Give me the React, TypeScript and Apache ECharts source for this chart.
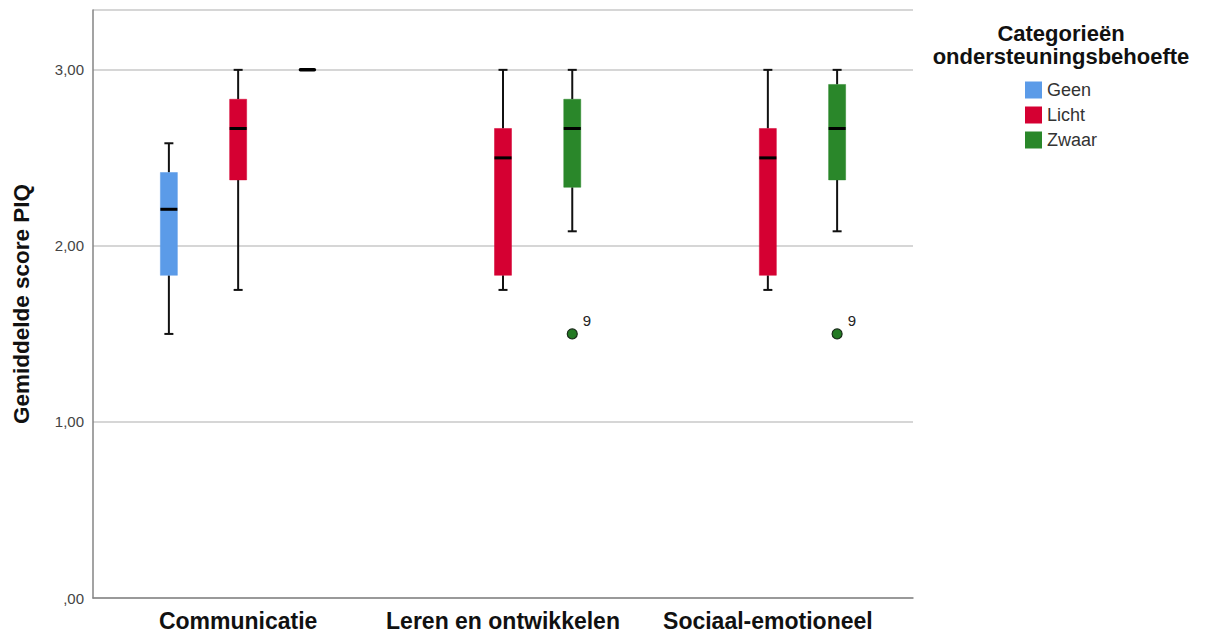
import React, { useEffect, useRef } from 'react';
import * as echarts from 'echarts';

const categories = ['Communicatie', 'Leren en ontwikkelen', 'Sociaal-emotioneel'];
const groupNames = ['Geen', 'Licht', 'Zwaar'];
const groupColors = ['#5b9be8', '#d50032', '#2a872a'];
const legendTitleLines = ['Categorieën', 'ondersteuningsbehoefte'];

// [min, Q1, median, Q3, max] per category (null = no data)
const geenStats: (number[] | null)[] = [
  [1.5, 1.833, 2.208, 2.417, 2.583],
  null,
  null,
];
const lichtStats: (number[] | null)[] = [
  [1.75, 2.375, 2.667, 2.833, 3.0],
  [1.75, 1.833, 2.5, 2.667, 3.0],
  [1.75, 1.833, 2.5, 2.667, 3.0],
];
const zwaarStats: (number[] | null)[] = [
  [3.0, 3.0, 3.0, 3.0, 3.0],
  [2.083, 2.333, 2.667, 2.833, 3.0],
  [2.083, 2.375, 2.667, 2.917, 3.0],
];
// outliers: category index, group index, value, case label
const outlierCats = [1, 2];
const outlierGroups = [2, 2];
const outlierValues = [1.5, 1.5];
const outlierLabels = ['9', '9'];

const yTicks = [0, 1, 2, 3];

const FONT = '"Liberation Sans", Arial, sans-serif';
const SLOT = 0.2615;
const slotOffsets = [-SLOT, 0, SLOT];

function makeRender(offset: number, color: string) {
  return (params: any, api: any) => {
    const c = api.value(0);
    const mn = api.value(1), q1 = api.value(2), md = api.value(3), q3 = api.value(4), mx = api.value(5);
    const x = api.coord([c + offset, 0])[0];
    const y = (v: number) => api.coord([c + offset, v])[1];
    const hw = 8.5;
    const cw = 4.5;
    const ls = { stroke: '#111', lineWidth: 2 };
    const children: any[] = [];
    if (mx > q3) {
      children.push({ type: 'line', shape: { x1: x, y1: y(q3), x2: x, y2: y(mx) }, style: ls });
      children.push({ type: 'line', shape: { x1: x - cw, y1: y(mx), x2: x + cw, y2: y(mx) }, style: ls });
    }
    if (q1 > mn) {
      children.push({ type: 'line', shape: { x1: x, y1: y(q1), x2: x, y2: y(mn) }, style: ls });
      children.push({ type: 'line', shape: { x1: x - cw, y1: y(mn), x2: x + cw, y2: y(mn) }, style: ls });
    }
    if (q3 > q1) {
      children.push({
        type: 'rect',
        shape: { x: x - hw, y: y(q3), width: hw * 2, height: y(q1) - y(q3) },
        style: { fill: color, stroke: color, lineWidth: 0.5 },
      });
      children.push({
        type: 'line',
        shape: { x1: x - hw, y1: y(md), x2: x + hw, y2: y(md) },
        style: { stroke: '#000', lineWidth: 3 },
      });
    } else {
      children.push({
        type: 'line',
        shape: { x1: x - hw + 1.5, y1: y(md), x2: x + hw - 1.5, y2: y(md) },
        style: { stroke: '#000', lineWidth: 3.5, lineCap: 'round' },
      });
    }
    return { type: 'group', children };
  };
}

export default function App() {
  const ref = useRef<HTMLDivElement>(null);
  useEffect(() => {
    if (!ref.current) return;
    const chart = echarts.init(ref.current, undefined, { renderer: 'svg' });
    const allStats = [geenStats, lichtStats, zwaarStats];
    const boxSeries = groupNames.map((name, gi) => ({
      type: 'custom',
      name,
      itemStyle: { color: groupColors[gi] },
      renderItem: makeRender(slotOffsets[gi], groupColors[gi]),
      encode: { x: 0, y: [1, 2, 3, 4, 5] },
      data: allStats[gi]
        .map((s, ci) => (s ? [ci, ...s] : null))
        .filter((d) => d !== null),
      z: 3,
    }));
    const option: any = {
      animation: false,
      backgroundColor: '#ffffff',
      textStyle: { fontFamily: FONT },
      grid: { left: 93, top: 10, width: 820, height: 588, containLabel: false, outerBoundsMode: 'none' },
      xAxis: {
        type: 'value',
        min: -0.548,
        max: 2.548,
        axisLine: { show: true, onZero: false, lineStyle: { color: '#858585', width: 1.5 } },
        axisTick: { show: false },
        splitLine: { show: false },
        axisLabel: {
          customValues: [0, 1, 2],
          formatter: (v: number) => categories[Math.round(v)] ?? '',
          fontSize: 23,
          fontWeight: 'bold',
          color: '#111',
          margin: 11,
          fontFamily: FONT,
        },
      },
      yAxis: {
        type: 'value',
        min: 0,
        max: 3.34,
        interval: 1,
        name: 'Gemiddelde score PIQ',
        nameLocation: 'middle',
        nameRotate: 90,
        nameGap: 60,
        nameTextStyle: { fontSize: 22.5, fontWeight: 'bold', color: '#111', fontFamily: FONT },
        axisLine: { show: true, onZero: false, lineStyle: { color: '#858585', width: 1.5 } },
        axisTick: { show: false },
        splitLine: { show: true, lineStyle: { color: '#c9c9c9', width: 1.5 } },
        axisLabel: {
          customValues: yTicks,
          formatter: (v: number) => (v === 0 ? ',00' : v.toFixed(2).replace('.', ',')),
          fontSize: 15,
          color: '#444',
          margin: 9,
          padding: [6, 0, 0, 0],
          fontFamily: FONT,
        },
      },
      legend: {
        orient: 'vertical',
        left: 1025,
        top: 81,
        padding: 0,
        itemWidth: 17,
        itemHeight: 17,
        itemGap: 7,
        selectedMode: false,
        textStyle: { fontSize: 18, color: '#333', fontFamily: FONT },
        data: groupNames.map((n, i) => ({ name: n, icon: 'rect', itemStyle: { color: groupColors[i] } })),
      },
      graphic: legendTitleLines.map((t, i) => ({
        type: 'text',
        x: 1061,
        y: 33 + i * 23.5,
        style: {
          text: t,
          align: 'center',
          verticalAlign: 'middle',
          fontSize: 22,
          fontWeight: 'bold',
          fill: '#111',
          fontFamily: FONT,
        },
      })),
      series: [
        ...boxSeries,
        {
          type: 'scatter',
          name: 'uitschieters',
          symbol: 'circle',
          symbolSize: 10,
          itemStyle: { color: '#237a23', borderColor: '#1a2e1a', borderWidth: 1.2, opacity: 1 },
          label: {
            show: true,
            formatter: '{b}',
            position: 'right',
            distance: 5,
            offset: [0, -13],
            fontSize: 15,
            color: '#222',
            fontFamily: FONT,
          },
          data: outlierCats.map((c, i) => ({
            name: outlierLabels[i],
            value: [c + slotOffsets[outlierGroups[i]], outlierValues[i]],
          })),
          z: 4,
        },
      ],
    };
    chart.setOption(option);
    return () => chart.dispose();
  }, []);
  return (
    <div
      ref={ref}
      style={{ position: 'absolute', left: 0, top: 0, width: 1206, height: 633, background: '#fff' }}
    />
  );
}
